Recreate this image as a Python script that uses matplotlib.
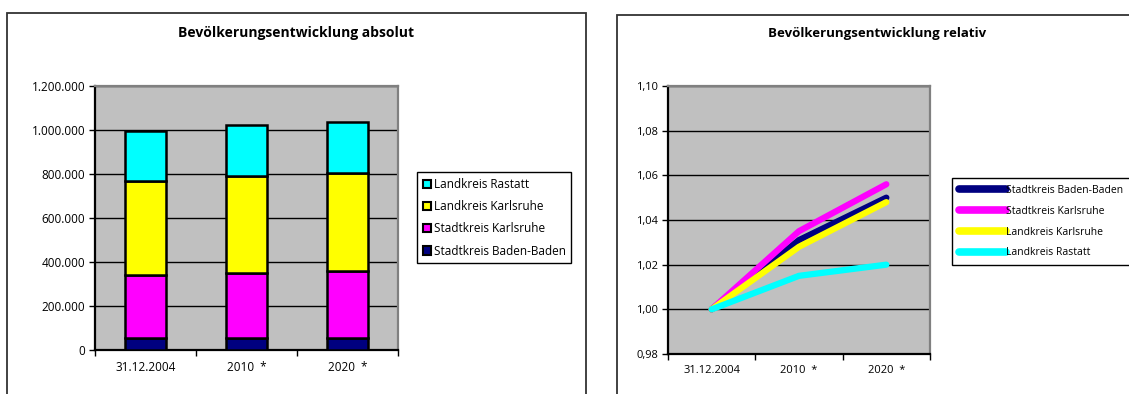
import matplotlib
matplotlib.use("Agg")
import matplotlib.pyplot as plt
from matplotlib.patches import Rectangle, Patch
from matplotlib.lines import Line2D
from matplotlib.ticker import FuncFormatter, FixedLocator

plt.rcParams['font.family'] = ['Open Sans', 'DejaVu Sans']

# Data
periods = ["31.12.2004", "2010  *", "2020  *"]
series_names = ["Stadtkreis Baden-Baden", "Stadtkreis Karlsruhe",
                "Landkreis Karlsruhe", "Landkreis Rastatt"]
colors = ["#000080", "#FF00FF", "#FFFF00", "#00FFFF"]

baden_baden_abs = [54000, 55700, 56700]
sk_karlsruhe_abs = [285000, 295000, 301000]
lk_karlsruhe_abs = [427000, 439000, 447500]
rastatt_abs = [228000, 231400, 232500]

baden_baden_rel = [1.000, 1.031, 1.050]
sk_karlsruhe_rel = [1.000, 1.035, 1.056]
lk_karlsruhe_rel = [1.000, 1.028, 1.048]
rastatt_rel = [1.000, 1.015, 1.020]

abs_series = [baden_baden_abs, sk_karlsruhe_abs, lk_karlsruhe_abs, rastatt_abs]
rel_series = [baden_baden_rel, sk_karlsruhe_rel, lk_karlsruhe_rel, rastatt_rel]

W, H = 1129, 394
fig = plt.figure(figsize=(W / 100, H / 100), dpi=100)
fig.patch.set_facecolor("white")


def px_rect(x0, y0, x1, y1):
    """Figure-fraction rectangle from pixel coordinates (origin top-left)."""
    return [x0 / W, 1 - y1 / H, (x1 - x0) / W, (y1 - y0) / H]


# Chart frames
for x0, x1, top in [(7, 586, 13), (617, 1135, 15)]:
    fig.patches.append(Rectangle((x0 / W, -0.1), (x1 - x0) / W, 1.1 - top / H,
                                 transform=fig.transFigure, fill=False,
                                 edgecolor="#333333", linewidth=1.3, zorder=0))

fig.text(296.5 / W, 1 - 33 / H, "Bevölkerungsentwicklung absolut",
         ha="center", va="center", fontsize=10, fontweight="bold")
fig.text(877 / W, 1 - 34 / H, "Bevölkerungsentwicklung relativ",
         ha="center", va="center", fontsize=9.5, fontweight="bold")


def style_axes(ax, fs, xpad):
    ax.set_facecolor("#C0C0C0")
    for side in ("left", "bottom"):
        ax.spines[side].set_color("black")
        ax.spines[side].set_linewidth(1.6)
    for side in ("top", "right"):
        ax.spines[side].set_color("#808080")
        ax.spines[side].set_linewidth(1.6)
    ax.set_xlim(-0.5, 2.5)
    ax.xaxis.set_major_locator(FixedLocator([-0.5, 0.5, 1.5, 2.5]))
    ax.xaxis.set_major_formatter(FuncFormatter(lambda v, p: ""))
    ax.xaxis.set_minor_locator(FixedLocator([0, 1, 2]))
    ax.set_xticklabels(periods, minor=True)
    ax.tick_params(axis="x", which="major", direction="out", length=4, width=1)
    ax.tick_params(axis="x", which="minor", length=0, pad=xpad, labelsize=fs)
    ax.tick_params(axis="y", direction="out", length=4, width=1, pad=3, labelsize=fs)
    ax.yaxis.grid(True, color="black", linewidth=1.0)
    ax.set_axisbelow(True)


# Absolute: stacked bars
ax1 = fig.add_axes(px_rect(95, 86, 398, 350))
style_axes(ax1, 8.5, 8)
x = list(range(len(periods)))
bottom = [0, 0, 0]
for vals, col in zip(abs_series, colors):
    ax1.bar(x, vals, width=0.4, bottom=bottom, color=col,
            edgecolor="black", linewidth=1.8, zorder=3)
    bottom = [b + v for b, v in zip(bottom, vals)]
ax1.set_ylim(0, 1200000)
ax1.set_yticks(range(0, 1200001, 200000))
ax1.yaxis.set_major_formatter(
    FuncFormatter(lambda v, p: f"{v:,.0f}".replace(",", ".")))

bar_handles = [Patch(facecolor=c, edgecolor="black", linewidth=1.5) for c in colors]
fig.legend(bar_handles[::-1], series_names[::-1], loc="upper left",
           bbox_to_anchor=(417 / W, 1 - 172 / H), frameon=True, fancybox=False,
           edgecolor="black", framealpha=1, fontsize=8.5,
           handlelength=0.7, handleheight=0.7, handletextpad=0.2,
           labelspacing=0.78, borderpad=0.5, borderaxespad=0)

# Relative: lines
ax2 = fig.add_axes(px_rect(668, 86, 930, 354))
style_axes(ax2, 8, 8)
for vals, col in zip(rel_series, colors):
    ax2.plot(x, vals, color=col, linewidth=4.5, solid_capstyle="round",
             solid_joinstyle="round", zorder=3)
ax2.set_ylim(0.98, 1.10)
ax2.set_yticks([0.98, 1.00, 1.02, 1.04, 1.06, 1.08, 1.10])
ax2.yaxis.set_major_formatter(
    FuncFormatter(lambda v, p: f"{v:.2f}".replace(".", ",")))

line_handles = [Line2D([0], [0], color=c, linewidth=5.5, solid_capstyle="round")
                for c in colors]
fig.legend(line_handles, series_names, loc="upper left",
           bbox_to_anchor=(952 / W, 1 - 178 / H), frameon=True, fancybox=False,
           edgecolor="black", framealpha=1, fontsize=7.5,
           handlelength=4.5, handletextpad=0.05,
           labelspacing=0.95, borderpad=0.65, borderaxespad=0)

fig.savefig("out.png", dpi=100, facecolor="white")
